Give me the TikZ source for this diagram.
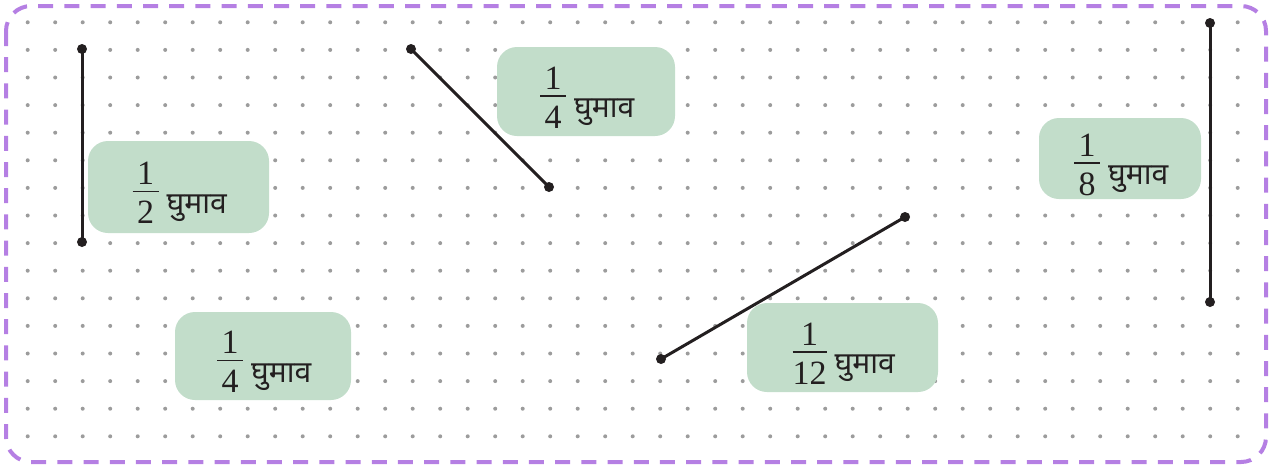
\documentclass[tikz,border=0pt]{standalone}
\usepackage{amsmath}
\usepackage{fontspec}
\setmainfont{Liberation Serif}
\newfontfamily\hin[Script=Devanagari]{Noto Sans}
\usepackage{tikz}
\usetikzlibrary{positioning}
\definecolor{framec}{HTML}{B57FE3}
\definecolor{boxc}{HTML}{C2DDCA}
\definecolor{dotc}{HTML}{9C9C9C}
\definecolor{inkc}{HTML}{231F20}
\tikzset{
  turnbox/.style={fill=boxc, rounded corners=10pt, inner sep=0pt, text=inkc,
    text height=25pt, text depth=11.8pt, font=\fontsize{17}{20}\selectfont},
  seg/.style={inkc, line width=1.5pt},
}
\newcommand{\griddots}[2]{%
  \foreach \c in {0,...,#1} {
    \foreach \r in {0,...,#2} {
      \fill[dotc] ({27.7+27.5*\c},{22.3+27.6*\r}) circle (1pt);
    }
  }
}
\newcommand{\turn}[5]{% name, centre, width, height, denominator
  \node[turnbox, minimum width=#3, minimum height=#4] (#1) at (#2)
    {$\dfrac{\raisebox{-4pt}{\makebox[13pt]{1}}}{#5}$\,\raisebox{-6.5pt}{\hin\fontsize{15}{18}\selectfont घुमाव}};
}
\newcommand{\segment}[3]{% name, from, to
  \coordinate (#1a) at (#2);
  \coordinate (#1b) at (#3);
  \draw[seg] (#1a) -- (#1b);
  \fill[inkc] (#1a) circle (2.5pt) (#1b) circle (2.5pt);
}

\begin{document}
\begin{tikzpicture}[x=0.5pt,y=-0.5pt]
  \useasboundingbox (0,0) rectangle (1273,468);
  \griddots{44}{15}
  % frame
  \draw[framec, line width=2pt, rounded corners=12.5pt, dash pattern=on 7.5pt off 5.6pt]
    (6,6) rectangle (1266,462);
  % labels
  \turn{half}{178.5,187}{90.5pt}{46pt}{\text{2}}
  \turn{quarterA}{586,91.5}{89pt}{44.5pt}{\text{4}}
  \turn{eighth}{1120,158.5}{81pt}{40.5pt}{\text{8}}
  \turn{quarterB}{263,356}{88pt}{44pt}{\text{4}}
  \turn{twelfth}{842.5,347.5}{95.5pt}{44.5pt}{\text{12}}
  % segments
  \segment{s1}{82,49}{82,242}
  \segment{s2}{411,49}{549,187}
  \segment{s3}{661,359}{905,217}
  \segment{s4}{1210,23}{1210,302}
\end{tikzpicture}
\end{document}
